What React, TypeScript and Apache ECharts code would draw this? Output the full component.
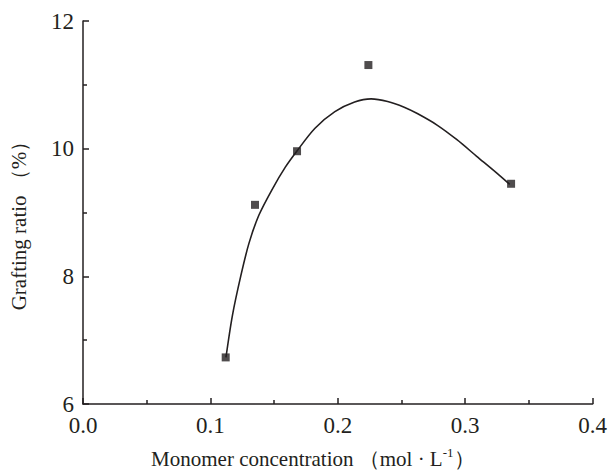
import React, { useEffect, useRef } from "react";
import * as echarts from "echarts";

// Measured data points (monomer concentration, grafting ratio)
const concentration = [0.112, 0.135, 0.168, 0.224, 0.336];
const graftingRatio = [6.73, 9.12, 9.96, 11.31, 9.45];

// Fitted curve
const curveX = [0.1122, 0.1173, 0.1239, 0.1303, 0.1381, 0.1484, 0.1588, 0.1678, 0.1821, 0.1977, 0.2132, 0.2261, 0.2391, 0.2521, 0.2624, 0.2779, 0.2935, 0.309, 0.3246, 0.3349];
const curveY = [6.73, 7.39, 8.01, 8.52, 8.96, 9.36, 9.71, 9.96, 10.32, 10.58, 10.73, 10.78, 10.74, 10.65, 10.55, 10.37, 10.14, 9.88, 9.62, 9.44];

const xTicks = [0, 0.1, 0.2, 0.3, 0.4];
const yTicks = [6, 8, 10, 12];

const FONT = "Liberation Serif";
const INK = "#231f20";

export default function App() {
  const ref = useRef<HTMLDivElement>(null);
  useEffect(() => {
    document.body.style.margin = "0";
    const chart = echarts.init(ref.current!, null, { renderer: "svg" });
    chart.setOption({
      animation: false,
      backgroundColor: "#ffffff",
      textStyle: { fontFamily: FONT },
      grid: { left: 82, right: 13, top: 21, bottom: 64, containLabel: false },
      xAxis: {
        type: "value",
        min: xTicks[0],
        max: xTicks[xTicks.length - 1],
        interval: 0.1,
        name: "Monomer concentration （mol · L{sup|-1}）",
        nameLocation: "middle",
        nameGap: 42,
        nameTextStyle: {
          fontFamily: FONT,
          fontSize: 21,
          color: INK,
          padding: [0, 50, 0, 0],
          rich: {
            sup: { fontFamily: FONT, fontSize: 13, color: INK, padding: [0, 0, 12, 0] },
          },
        },
        axisLine: { show: true, lineStyle: { color: INK, width: 1.5 } },
        axisTick: { show: true, inside: true, length: 6, lineStyle: { color: INK, width: 1.5 } },
        minorTick: { show: true, splitNumber: 2, length: 4, lineStyle: { color: INK, width: 1.5 } },
        splitLine: { show: false },
        axisLabel: {
          fontFamily: FONT,
          fontSize: 23,
          color: INK,
          margin: 10,
          formatter: (v: number) => v.toFixed(1),
        },
      },
      yAxis: {
        type: "value",
        min: yTicks[0],
        max: yTicks[yTicks.length - 1],
        interval: 2,
        name: "Grafting ratio （%）",
        nameLocation: "middle",
        nameGap: 54,
        nameRotate: 90,
        nameTextStyle: {
          fontFamily: FONT,
          fontSize: 21,
          color: INK,
          padding: [0, 16, 0, 0],
        },
        axisLine: { show: true, lineStyle: { color: INK, width: 1.5 } },
        axisTick: { show: true, inside: true, length: 6, lineStyle: { color: INK, width: 1.5 } },
        minorTick: { show: true, splitNumber: 2, length: 4, lineStyle: { color: INK, width: 1.5 } },
        splitLine: { show: false },
        axisLabel: {
          fontFamily: FONT,
          fontSize: 23,
          lineHeight: 18,
          color: INK,
          margin: 9,
        },
      },
      series: [
        {
          type: "line",
          data: curveX.map((x, i) => [x, curveY[i]]),
          smooth: 0.3,
          showSymbol: false,
          lineStyle: { color: INK, width: 1.6 },
          silent: true,
        },
        {
          type: "scatter",
          data: concentration.map((x, i) => [x, graftingRatio[i]]),
          symbol: "rect",
          symbolSize: 8,
          itemStyle: { color: INK },
        },
      ],
    });
    return () => chart.dispose();
  }, []);
  return <div ref={ref} style={{ width: 610, height: 474 }} />;
}
